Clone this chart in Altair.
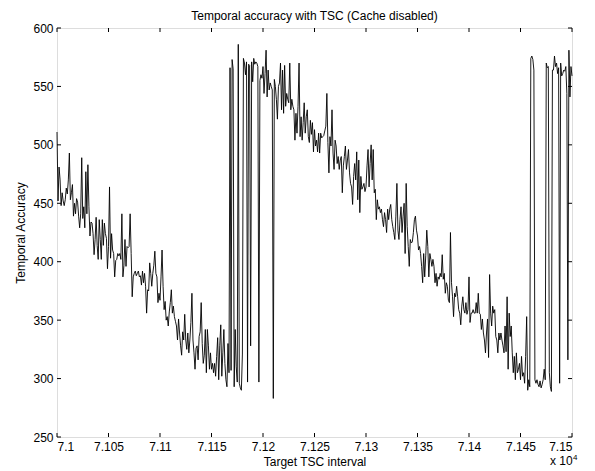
import altair as alt
import pandas as pd

# ---- data ----
tsc_start = 71000

acc_a = [511,452,481,470,448,459,452,448,453,463,
         458,470,493,453,459,466,439,450,441,454,
         451,439,429,441,489,437,447,429,477,441,
         483,447,422,434,433,424,406,419,438,414,
         402,436,419,402,436,414,433,424,420,394,
         413,464,403,424,410,407,387,401,402,407,
         405,407,402,441,387,397,419,396,413,412,
         413,441,407,370,387,390,392,388,390,392,
         387,388,380]
acc_b = [392,382,390,379,356,376,375,399,390,379,
         390,397,409,390,387,365,373,367,387,410,
         379,359,366,350,353,345,357,365,376,356,
         362,353,349,345,333,351,339,328,320,340,
         333,355,333,325,339,322,333,348,373,333,
         322,308,326,328,316,336,340,365,330,313,
         320,342,305,342,328,308,322,308,313,305,
         313,302,319,335,299,328,346,302,322,342,
         313,299,293,330,305]
acc_c = [566,307,573,565,293,342,310,297,586,296,
         292,290,321,574,570,560,571,297,569,568,
         328,571,554,574,569,571,570,567,297,555,
         560]
acc_d = [557,567,544,561,581,541,564,547,553,550,
         547,283,556,550,539,522,550,553,570,530,
         564,527,568,533,544,539,536,570,530,539,
         533,530,504,527,510,533,570,507,524,504,
         519,536,510,524,530,507,502,521,509,519,
         494,513,499,504,494,510,493,510,506,507,
         508,512]
acc_e = [516,544,502,476,507,499,530,493,479,504,
         499,484,490,479,487,490,459,482,490,499,
         479,487,496,476,467,464,449,473,484,470,
         494,453,487,442,473,462,464,467,460,464,
         482,496,464,484,500,470,496,459,462,436,
         453,445,447,442,445,436,430,442,436,425,
         445,436,445,449,436,430,425,419,439,467,
         427,419,436,447,425,439,450,407,467,430,
         413,396,419,416,417]
acc_f = [425,436,439,427,422,410,413,407,396,382,
         407,387,405,427,413,387,407,402,396,402,
         396,382,390,379,387,385,390,387,406,385,
         390,373,382,379,367,365,425,382,370,353,
         373,370,379,370,359,356,346,362,370,359,
         356,365,355,359,387,348,356,356,359,356,
         356,365,356,373,356,355,342,351,339,333,
         322,339,351,318,389,356,345,362]
acc_g = [356,359,336,333,322,339,333,339,333,328,
         322,345,323,370,308,356,336,345,322,305,
         319,299,322,305,308,313,299,319,302,305,
         296,319,353,290,299,293,574,576,573,564,
         299,296,299,295,293,298,292,295,299,308,
         299,570,566,567,305,293,289,564,564,576,
         567,570,561,566,296,570,559,561,564,563,
         567,544,316,581,541,567,559]

accuracy = acc_a + acc_b + acc_c + acc_d + acc_e + acc_f + acc_g
tsc = [tsc_start + i for i in range(len(accuracy))]

x_ticks = [71000, 71050, 71100, 71150, 71200, 71250, 71300, 71350, 71400, 71450, 71500]
y_ticks = [250, 300, 350, 400, 450, 500, 550, 600]
x_domain = [71000, 71500]
y_domain = [250, 600]

title_text = "Temporal accuracy with TSC (Cache disabled)"
x_title = "Target TSC interval"
y_title = "Temporal Accuracy"
exp_base = "x 10"
exp_power = "4"

# ---- chart ----
W, H = 515, 409
FONT = "Liberation Sans"
FS = 12
TL = 4

df = pd.DataFrame({"tsc": tsc, "acc": accuracy})
xscale = alt.Scale(domain=x_domain, nice=False, zero=False)
yscale = alt.Scale(domain=y_domain, nice=False, zero=False)

x_axis = alt.Axis(values=x_ticks, ticks=False, domain=False, grid=False,
                  labelExpr="format(datum.value/10000, '.4~f')",
                  labelPadding=4, labelFontSize=FS, labelFont=FONT, labelColor="black",
                  title=x_title, titleFontSize=FS, titleFont=FONT, titleFontWeight="normal",
                  titleColor="black", titlePadding=4)
y_axis = alt.Axis(values=y_ticks, ticks=False, domain=False, grid=False,
                  labelPadding=4, labelFontSize=FS, labelFont=FONT, labelColor="black",
                  title=y_title, titleFontSize=FS, titleFont=FONT, titleFontWeight="normal",
                  titleColor="black", titlePadding=5)

line = alt.Chart(df).mark_line(color="black", strokeWidth=0.9).encode(
    x=alt.X("tsc:Q", scale=xscale, axis=x_axis),
    y=alt.Y("acc:Q", scale=yscale, axis=y_axis),
)

xt = pd.DataFrame({"t": x_ticks})
yt = pd.DataFrame({"t": y_ticks})

x_bot = alt.Chart(xt).mark_rule(color="black", strokeWidth=1).encode(
    x=alt.X("t:Q", scale=xscale, axis=x_axis), y=alt.value(H), y2=alt.value(H - TL))
x_top = alt.Chart(xt).mark_rule(color="black", strokeWidth=1).encode(
    x=alt.X("t:Q", scale=xscale, axis=x_axis), y=alt.value(0), y2=alt.value(TL))
y_left = alt.Chart(yt).mark_rule(color="black", strokeWidth=1).encode(
    y=alt.Y("t:Q", scale=yscale, axis=y_axis), x=alt.value(0), x2=alt.value(TL))
y_right = alt.Chart(yt).mark_rule(color="black", strokeWidth=1).encode(
    y=alt.Y("t:Q", scale=yscale, axis=y_axis), x=alt.value(W - TL), x2=alt.value(W))

one = pd.DataFrame({"a": [0]})
title_mark = alt.Chart(one).mark_text(text=title_text, align="center", baseline="middle",
                                      font=FONT, fontSize=FS, color="black").encode(
    x=alt.value(W / 2), y=alt.value(-12))
exp1 = alt.Chart(one).mark_text(text=exp_base, align="left", baseline="alphabetic",
                                font=FONT, fontSize=FS, color="black").encode(
    x=alt.value(W - 22), y=alt.value(H + 28))
exp2 = alt.Chart(one).mark_text(text=exp_power, align="left", baseline="alphabetic",
                                font=FONT, fontSize=8, color="black").encode(
    x=alt.value(W + 1), y=alt.value(H + 23))

chart = alt.layer(line, x_bot, x_top, y_left, y_right, title_mark, exp1, exp2).properties(
    width=W, height=H,
    padding={"left": 49, "top": 20, "right": 15, "bottom": 32},
    autosize=alt.AutoSizeParams(type="none"),
).configure_view(stroke="black", strokeWidth=1).configure(background="white")

chart.save("out.html", embed_options={"renderer": "svg", "actions": False})
